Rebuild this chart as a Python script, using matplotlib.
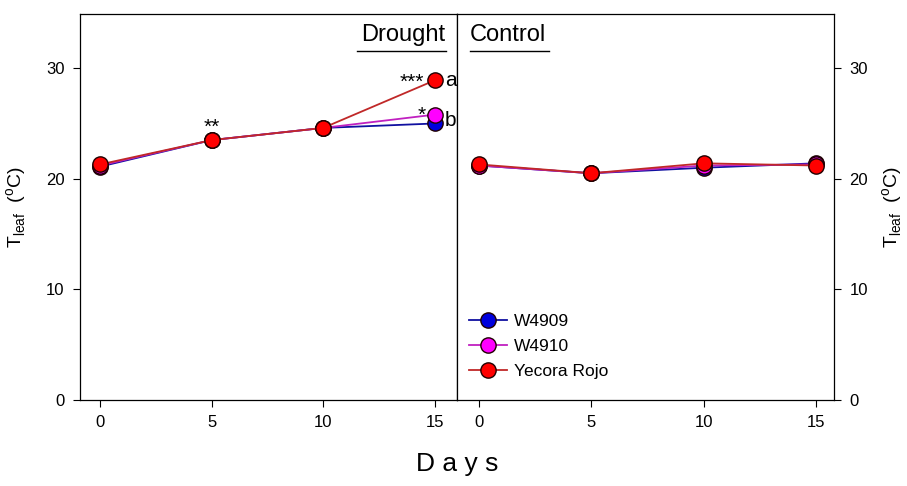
import matplotlib.pyplot as plt

plt.rcParams['font.family'] = ['Liberation Sans', 'DejaVu Sans']

days = [0, 5, 10, 15]
cultivars = ['W4909', 'W4910', 'Yecora Rojo']

# Tleaf (degC) under drought
drought_w4909 = [21.1, 23.5, 24.6, 25.0]
drought_w4910 = [21.2, 23.5, 24.6, 25.8]
drought_yecora = [21.3, 23.5, 24.6, 28.9]

# Tleaf (degC) under control
control_w4909 = [21.2, 20.5, 21.0, 21.4]
control_w4910 = [21.2, 20.5, 21.2, 21.3]
control_yecora = [21.3, 20.5, 21.4, 21.2]

face_colors = ['#0000dd', '#ff00ff', '#ff0000']
line_colors = ['#1010a0', '#c020c0', '#c02828']

fig = plt.figure(figsize=(9.07, 4.86), dpi=100)
ax1 = fig.add_axes([80/907, 86/486, 377/907, 386/486])
ax2 = fig.add_axes([457/907, 86/486, 377/907, 386/486])

drought = [drought_w4909, drought_w4910, drought_yecora]
control = [control_w4909, control_w4910, control_yecora]

for vals, fc, lc, name in zip(drought, face_colors, line_colors, cultivars):
    ax1.plot(days, vals, '-o', color=lc, mfc=fc, mec='#200000', ms=11, lw=1.3, label=name)
for vals, fc, lc, name in zip(control, face_colors, line_colors, cultivars):
    ax2.plot(days, vals, '-o', color=lc, mfc=fc, mec='#200000', ms=11, lw=1.3, label=name)

for ax in (ax1, ax2):
    ax.set_ylim(0, 34.9)
    ax.set_yticks([0, 10, 20, 30])
    ax.set_xticks(days)
    ax.tick_params(labelsize=12, direction='out', length=5, width=0.8, pad=6)
    for s in ax.spines.values():
        s.set_linewidth(0.9)

ax1.set_xlim(-0.9, 16.0)
ax2.set_xlim(-0.98, 15.8)
ax2.yaxis.tick_right()
ax2.yaxis.set_label_position('right')

ylab = r'T$_{\mathregular{leaf}}$  ($^{\mathregular{o}}$C)'
ax1.set_ylabel(ylab, fontsize=14, labelpad=12)
ax2.set_ylabel(ylab, fontsize=14, labelpad=9, rotation=90)

ax1.text(0.97, 0.975, 'Drought', transform=ax1.transAxes, ha='right', va='top', fontsize=17)
ax1.plot([0.735, 0.97], [0.905, 0.905], transform=ax1.transAxes, color='k', lw=1.0)
ax2.text(0.035, 0.975, 'Control', transform=ax2.transAxes, ha='left', va='top', fontsize=17)
ax2.plot([0.035, 0.245], [0.905, 0.905], transform=ax2.transAxes, color='k', lw=1.0)

# significance marks
ax1.text(5, drought_yecora[1] + 0.3, '**', ha='center', va='bottom', fontsize=15)
ax1.text(14.5, drought_yecora[3] - 1.0, '***', ha='right', va='bottom', fontsize=15)
ax1.text(14.6, drought_w4910[3] - 0.9, '*', ha='right', va='bottom', fontsize=15)
ax1.text(15.45, drought_yecora[3], 'a', ha='left', va='center', fontsize=15)
ax1.text(15.45, drought_w4909[3] + 0.3, 'b', ha='left', va='center', fontsize=15)

ax2.legend(loc='lower left', bbox_to_anchor=(-0.01, 0.015), frameon=False, fontsize=12.5,
           handlelength=2.2, labelspacing=0.55, handletextpad=0.4)

fig.text(457/907, 0.02, 'D a y s', ha='center', va='bottom', fontsize=19)

fig.savefig('out.png', dpi=100)
